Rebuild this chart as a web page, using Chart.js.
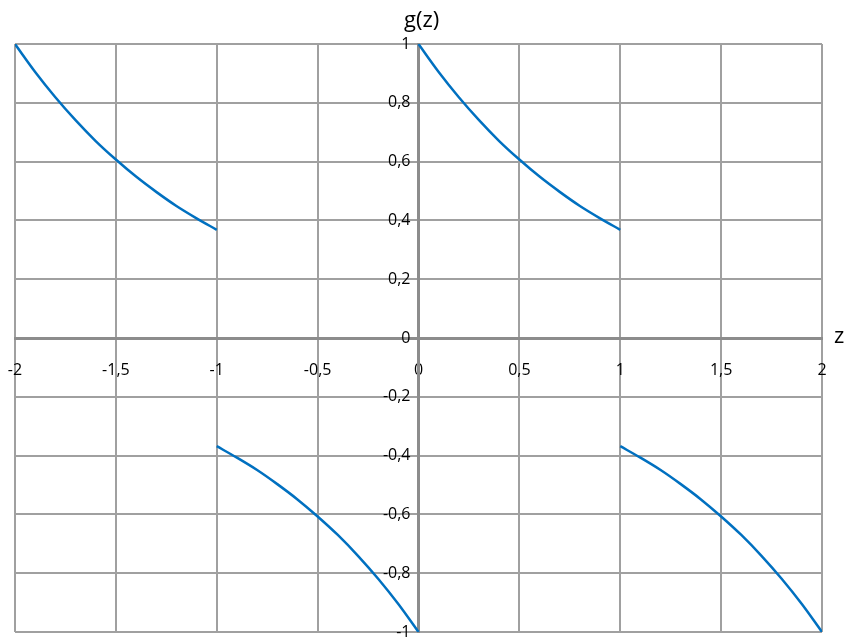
<!DOCTYPE html>
<html>
<head>
<meta charset="utf-8">
<script src="https://cdn.jsdelivr.net/npm/chart.js@4/dist/chart.umd.min.js"></script>
<style>
  html, body { margin: 0; padding: 0; background: #fff; }
  #wrap { position: relative; width: 852px; height: 642px; }
  .lbl { position: absolute; font-family: 'Open Sans', 'Liberation Sans', sans-serif; color: #000; font-size: 22px; line-height: 1; }
</style>
</head>
<body>
<div id="wrap">
  <canvas id="chart" width="852" height="642"></canvas>
  <div class="lbl" style="left:404px; top:7px;">g(z)</div>
  <div class="lbl" style="left:834px; top:323px;">z</div>
</div>
<script>
// values, four separate branches
const zA = [-2, -1.9, -1.8, -1.7, -1.6, -1.5, -1.4, -1.3, -1.2, -1.1, -1];
const gA = [1, 0.905, 0.819, 0.741, 0.670, 0.607, 0.549, 0.497, 0.449, 0.407, 0.368];

const zB = [-1, -0.9, -0.8, -0.7, -0.6, -0.5, -0.4, -0.3, -0.2, -0.1, 0];
const gB = [-0.368, -0.407, -0.449, -0.497, -0.549, -0.607, -0.670, -0.741, -0.819, -0.905, -1];

const zC = [0, 0.1, 0.2, 0.3, 0.4, 0.5, 0.6, 0.7, 0.8, 0.9, 1];
const gC = [1, 0.905, 0.819, 0.741, 0.670, 0.607, 0.549, 0.497, 0.449, 0.407, 0.368];

const zD = [1, 1.1, 1.2, 1.3, 1.4, 1.5, 1.6, 1.7, 1.8, 1.9, 2];
const gD = [-0.368, -0.407, -0.449, -0.497, -0.549, -0.607, -0.670, -0.741, -0.819, -0.905, -1];

const LINE_COLOR = '#0070c0';
const GRID_COLOR = '#a0a0a0';
const AXIS_COLOR = '#8c8c8c';

function branch(zs, gs) {
  return {
    data: zs.map((z, i) => ({ x: z, y: gs[i] })),
    borderColor: LINE_COLOR,
    borderWidth: 2.5,
    pointRadius: 0,
    showLine: true,
    fill: false,
    cubicInterpolationMode: 'monotone',
  };
}

function comma(v) {
  const r = Math.round(v * 10) / 10;
  return String(r).replace('.', ',');
}

// padding is ignored for a y axis placed at x = 0, so keep a gap with an en space
function commaGap(v) {
  return comma(v) + '\u2002';
}

// let edge labels hang outside the plot instead of shrinking it
function noEdgePadding(scale) {
  scale.paddingLeft = 0;
  scale.paddingRight = 0;
  scale.paddingTop = 0;
  scale.paddingBottom = 0;
}

new Chart(document.getElementById('chart'), {
  type: 'scatter',
  data: {
    datasets: [branch(zA, gA), branch(zB, gB), branch(zC, gC), branch(zD, gD)],
  },
  options: {
    responsive: false,
    animation: false,
    layout: { padding: { left: 15, top: 44, right: 30, bottom: 10 } },
    plugins: { legend: { display: false }, tooltip: { enabled: false } },
    scales: {
      x: {
        type: 'linear',
        position: { y: 0 },
        min: -2,
        max: 2,
        afterFit: noEdgePadding,
        ticks: {
          stepSize: 0.5,
          color: '#000',
          font: { family: 'Open Sans', size: 16 },
          padding: 18,
          callback: comma,
        },
        grid: { color: GRID_COLOR, lineWidth: 2, tickLength: 5 },
        border: { color: AXIS_COLOR, width: 3 },
      },
      y: {
        type: 'linear',
        position: { x: 0 },
        min: -1,
        max: 1,
        afterFit: noEdgePadding,
        ticks: {
          stepSize: 0.2,
          color: '#000',
          font: { family: 'Open Sans', size: 16 },
          padding: 4,
          callback: commaGap,
        },
        grid: { color: GRID_COLOR, lineWidth: 2, tickLength: 5 },
        border: { color: AXIS_COLOR, width: 3 },
      },
    },
  },
});
</script>
</body>
</html>
